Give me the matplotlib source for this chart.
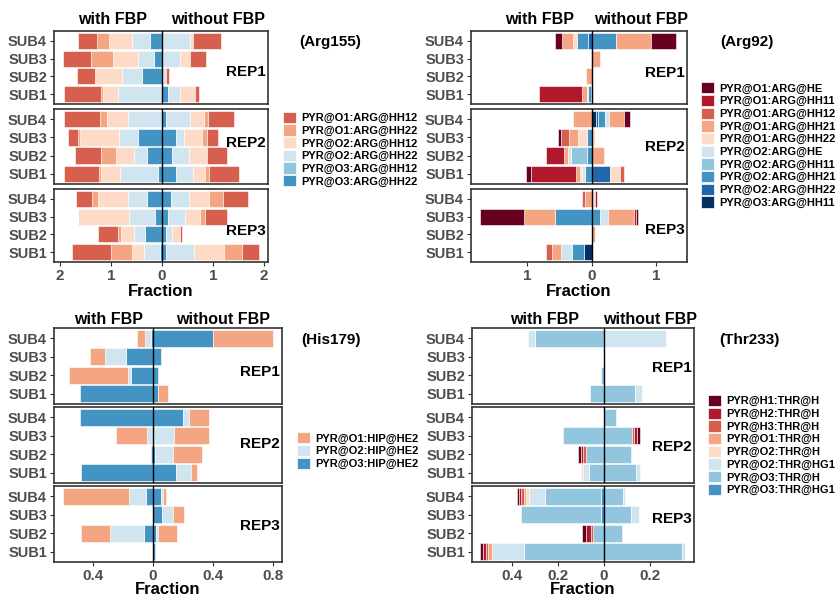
import matplotlib
matplotlib.use("Agg")
import matplotlib.pyplot as plt
from matplotlib.patches import Patch

plt.rcParams['font.family'] = ['Liberation Sans', 'DejaVu Sans']

W, H = 839, 597
SUBS = ['SUB1', 'SUB2', 'SUB3', 'SUB4']
REPS = ['REP1', 'REP2', 'REP3']

# ---- Arg155 ----------------------------------------------------------------
ARG155_LABELS = ['PYR@O1:ARG@HH12', 'PYR@O1:ARG@HH22', 'PYR@O2:ARG@HH12',
                 'PYR@O2:ARG@HH22', 'PYR@O3:ARG@HH12', 'PYR@O3:ARG@HH22']
ARG155_COLORS = ['#D6604D', '#F4A582', '#FDDBC7', '#D1E5F0', '#92C5DE', '#4393C3']
# rows: SUB1..SUB4, values in legend order
ARG155_WITH = [
    [[0.74, 0.03, 0.29, 0.86, 0, 0.01], [0.35, 0, 0.52, 0.40, 0, 0.39],
     [0.54, 0.44, 0.49, 0.31, 0, 0.16], [0.37, 0.24, 0.46, 0.34, 0, 0.24]],
    [[0.69, 0.05, 0.37, 0.75, 0, 0.07], [0.52, 0.29, 0.36, 0.25, 0, 0.29],
     [0.21, 0.04, 0.75, 0.37, 0, 0.48], [0.70, 0.14, 0.41, 0.67, 0, 0]],
    [[0.75, 0.42, 0.23, 0.33, 0, 0.03], [0.39, 0.07, 0.26, 0.21, 0, 0.33],
     [0.02, 0, 0.96, 0.52, 0, 0.13], [0.31, 0.12, 0.60, 0.37, 0, 0.29]],
]
ARG155_WITHOUT = [
    [[0.08, 0, 0.29, 0.23, 0, 0.12], [0.06, 0, 0, 0.07, 0, 0],
     [0.31, 0, 0.20, 0.35, 0, 0], [0.54, 0, 0.07, 0.54, 0, 0]],
    [[0.58, 0.08, 0.23, 0.33, 0, 0.28], [0.39, 0, 0.35, 0.33, 0, 0.20],
     [0.22, 0.09, 0.36, 0.15, 0, 0.28], [0.51, 0.08, 0.29, 0.46, 0, 0.08]],
    [[0.33, 0.35, 0.59, 0.56, 0, 0.07], [0.05, 0, 0.16, 0.12, 0, 0.07],
     [0.43, 0.11, 0.28, 0.34, 0, 0.12], [0.49, 0.28, 0.39, 0.35, 0, 0.18]],
]

# ---- Arg92 -----------------------------------------------------------------
ARG92_LABELS = ['PYR@O1:ARG@HE', 'PYR@O1:ARG@HH11', 'PYR@O1:ARG@HH12',
                'PYR@O1:ARG@HH21', 'PYR@O1:ARG@HH22', 'PYR@O2:ARG@HE',
                'PYR@O2:ARG@HH11', 'PYR@O2:ARG@HH21', 'PYR@O2:ARG@HH22',
                'PYR@O3:ARG@HH11']
ARG92_COLORS = ['#67001F', '#B2182B', '#D6604D', '#F4A582', '#FDDBC7',
                '#D1E5F0', '#92C5DE', '#4393C3', '#2166AC', '#053061']
ARG92_WITH = [
    [[0, 0.67, 0, 0.08, 0.01, 0, 0, 0.04, 0.02, 0], [0, 0, 0, 0.09, 0, 0, 0, 0, 0, 0],
     [0, 0, 0, 0.02, 0, 0, 0, 0, 0, 0], [0.10, 0, 0, 0.18, 0.05, 0, 0, 0.18, 0.06, 0]],
    [[0.09, 0.69, 0, 0.07, 0.03, 0.04, 0, 0.11, 0, 0], [0, 0.27, 0, 0.07, 0, 0.05, 0.24, 0.08, 0, 0],
     [0.05, 0, 0.12, 0.14, 0.14, 0, 0, 0.08, 0, 0], [0, 0, 0, 0.29, 0, 0, 0, 0, 0, 0]],
    [[0, 0, 0.10, 0.14, 0, 0.17, 0, 0.19, 0, 0.12], [0, 0, 0, 0, 0, 0, 0, 0, 0, 0],
     [0.67, 0, 0, 0.48, 0, 0, 0, 0.58, 0, 0], [0, 0, 0.04, 0.11, 0, 0, 0, 0, 0, 0]],
]
ARG92_WITHOUT = [
    [[0, 0, 0, 0, 0.01, 0, 0, 0.01, 0, 0], [0, 0, 0, 0, 0, 0, 0, 0, 0, 0],
     [0, 0, 0, 0.13, 0, 0, 0, 0, 0, 0], [0.39, 0, 0, 0.55, 0, 0, 0, 0.37, 0, 0]],
    [[0, 0, 0.05, 0, 0.16, 0, 0, 0, 0.28, 0], [0, 0, 0, 0.18, 0, 0, 0, 0, 0, 0],
     [0, 0, 0, 0, 0.04, 0, 0, 0, 0, 0], [0.10, 0, 0, 0.22, 0, 0.07, 0, 0.10, 0.04, 0.06]],
    [[0, 0, 0, 0, 0, 0, 0, 0, 0, 0], [0, 0, 0, 0.05, 0, 0, 0, 0, 0, 0],
     [0.03, 0.04, 0, 0.40, 0, 0.12, 0, 0.13, 0, 0], [0, 0.03, 0, 0, 0.04, 0, 0, 0, 0, 0]],
]

# ---- His179 ----------------------------------------------------------------
HIS179_LABELS = ['PYR@O1:HIP@HE2', 'PYR@O2:HIP@HE2', 'PYR@O3:HIP@HE2']
HIS179_COLORS = ['#F4A582', '#D1E5F0', '#4393C3']
HIS179_WITH = [
    [[0, 0, 0.49], [0.39, 0.02, 0.15], [0.10, 0.14, 0.18], [0.055, 0.04, 0.015]],
    [[0, 0, 0.48], [0, 0, 0.015], [0.21, 0.04, 0], [0, 0, 0.49]],
    [[0, 0, 0], [0.19, 0.23, 0.06], [0, 0, 0], [0.44, 0.11, 0.05]],
]
HIS179_WITHOUT = [
    [[0.07, 0, 0.03], [0, 0, 0.035], [0, 0, 0.05], [0.40, 0, 0.40]],
    [[0.04, 0.10, 0.155], [0.19, 0.12, 0.015], [0.23, 0.14, 0], [0.13, 0.04, 0.20]],
    [[0, 0, 0.015], [0.13, 0.01, 0.02], [0.075, 0.07, 0.06], [0.02, 0.01, 0.055]],
]

# ---- Thr233 ----------------------------------------------------------------
THR233_LABELS = ['PYR@H1:THR@H', 'PYR@H2:THR@H', 'PYR@H3:THR@H', 'PYR@O1:THR@H',
                 'PYR@O2:THR@H', 'PYR@O2:THR@HG1', 'PYR@O3:THR@H', 'PYR@O3:THR@HG1']
THR233_COLORS = ['#67001F', '#B2182B', '#D6604D', '#F4A582', '#FDDBC7',
                 '#D1E5F0', '#92C5DE', '#4393C3']
THR233_WITH = [
    [[0, 0, 0, 0, 0, 0, 0.06, 0], [0, 0, 0, 0, 0, 0, 0.012, 0],
     [0, 0, 0, 0, 0, 0, 0, 0], [0, 0, 0, 0, 0, 0.03, 0.30, 0]],
    [[0, 0, 0, 0, 0.01, 0.025, 0.067, 0], [0.01, 0.012, 0.01, 0, 0, 0, 0.08, 0],
     [0, 0, 0, 0, 0, 0, 0.18, 0], [0, 0, 0, 0, 0, 0, 0, 0]],
    [[0.015, 0.01, 0.01, 0.02, 0, 0.135, 0.35, 0], [0.02, 0.02, 0.01, 0, 0, 0, 0.048, 0],
     [0, 0, 0, 0, 0, 0, 0.35, 0.012], [0.01, 0.01, 0.01, 0.01, 0.015, 0.07, 0.24, 0.015]],
]
THR233_WITHOUT = [
    [[0, 0, 0, 0, 0, 0.03, 0.133, 0], [0, 0, 0, 0, 0, 0, 0, 0],
     [0, 0, 0, 0, 0, 0, 0, 0], [0, 0, 0, 0, 0, 0.27, 0, 0]],
    [[0, 0, 0, 0, 0, 0.015, 0.14, 0], [0, 0, 0, 0, 0, 0, 0.115, 0],
     [0.014, 0.012, 0.01, 0, 0, 0, 0.12, 0], [0, 0, 0, 0, 0, 0, 0.054, 0]],
    [[0, 0, 0, 0, 0, 0.01, 0.34, 0], [0, 0, 0, 0, 0, 0, 0.078, 0],
     [0, 0, 0, 0, 0, 0.035, 0.116, 0], [0, 0, 0, 0, 0, 0.008, 0.083, 0]],
]

GRAY = '#4D4D4D'
EDGE = '#333333'


def px_rect(x0, x1, y0, y1):
    return [x0 / W, 1 - y1 / H, (x1 - x0) / W, (y1 - y0) / H]


def stack(ax, rows, colors, sign):
    """Stack segments outward from zero, last legend entry closest to zero"""
    for i, vals in enumerate(rows):
        start = 0.0
        for j in reversed(range(len(vals))):
            v = vals[j]
            if v <= 0:
                continue
            ax.barh(i + 1, sign * v, left=sign * start, height=0.9,
                    color=colors[j], edgecolor='white', linewidth=0.4)
            start += v


def draw_panel(fig, xpx, ypx, with_data, without_data, colors, xlim, xticks,
               rep_y, xlabel_pad=1):
    axes = []
    for k, (y0, y1) in enumerate(ypx):
        ax = fig.add_axes(px_rect(xpx[0], xpx[1], y0, y1))
        stack(ax, with_data[k], colors, -1)
        stack(ax, without_data[k], colors, 1)
        ax.axvline(0, color='black', lw=1.0, zorder=5)
        ax.set_xlim(*xlim)
        ax.set_ylim(0.45, 4.55)
        ax.set_yticks([1, 2, 3, 4])
        ax.set_yticklabels(SUBS, fontweight='bold')
        ax.tick_params(axis='y', labelsize=10.5, labelcolor=GRAY, length=3,
                       color=EDGE, pad=2)
        for s in ax.spines.values():
            s.set_color(EDGE)
            s.set_linewidth(1.2)
        ax.text(0.99, rep_y[k], REPS[k], transform=ax.transAxes, ha='right',
                va='center', fontsize=11, fontweight='bold')
        if k < 2:
            ax.set_xticks([])
        else:
            ax.set_xticks(xticks)
            ax.set_xticklabels([('%g' % abs(t)) for t in xticks],
                               fontweight='bold')
            ax.tick_params(axis='x', labelsize=11, labelcolor=GRAY, length=3,
                           color=EDGE, pad=2)
            ax.set_xlabel('Fraction', fontsize=12, fontweight='bold',
                          labelpad=xlabel_pad)
        axes.append(ax)
    return axes


def add_legend(fig, labels, colors, x, y):
    handles = [Patch(facecolor=c, edgecolor='white', linewidth=0.5) for c in colors]
    fig.legend(handles, labels, loc='upper left', bbox_to_anchor=(x / W, 1 - y / H),
               frameon=False, borderpad=0, borderaxespad=0, handlelength=1.17,
               handleheight=1.17, labelspacing=0.11, handletextpad=0.45,
               prop={'size': 8, 'weight': 'bold'})


fig = plt.figure(figsize=(W / 100, H / 100), dpi=100)

TOP = [(31, 104), (109, 184), (189, 262)]
BOT = [(328, 404), (407, 483), (486, 562)]

draw_panel(fig, (54, 268), TOP, ARG155_WITH, ARG155_WITHOUT, ARG155_COLORS,
           (-2.118, 2.078), [-2, -1, 0, 1, 2], [0.44, 0.55, 0.42])
draw_panel(fig, (471, 687), TOP, ARG92_WITH, ARG92_WITHOUT, ARG92_COLORS,
           (-1.876, 1.473), [-1, 0, 1], [0.42, 0.49, 0.44])
draw_panel(fig, (54, 282), BOT, HIS179_WITH, HIS179_WITHOUT, HIS179_COLORS,
           (-0.66, 0.86), [-0.4, 0, 0.4, 0.8], [0.42, 0.51, 0.47], xlabel_pad=-1)
draw_panel(fig, (472, 694), BOT, THR233_WITH, THR233_WITHOUT, THR233_COLORS,
           (-0.574, 0.391), [-0.4, -0.2, 0, 0.2], [0.47, 0.47, 0.57], xlabel_pad=-1)

# column headers
for cx, cy, txt in [(113, 20, 'with FBP'), (218, 20, 'without FBP'),
                    (540, 20, 'with FBP'), (641, 20, 'without FBP'),
                    (109, 320, 'with FBP'), (223, 320, 'without FBP'),
                    (545, 320, 'with FBP'), (650, 320, 'without FBP')]:
    fig.text(cx / W, 1 - cy / H, txt, ha='center', va='center', fontsize=11.5,
             fontweight='bold')

for cx, cy, txt in [(330, 42, '(Arg155)'), (747, 42, '(Arg92)'),
                    (331, 340, '(His179)'), (749, 340, '(Thr233)')]:
    fig.text(cx / W, 1 - cy / H, txt, ha='center', va='center', fontsize=11,
             fontweight='bold')

add_legend(fig, ARG155_LABELS, ARG155_COLORS, 283, 111.7)
add_legend(fig, ARG92_LABELS, ARG92_COLORS, 701, 82.3)
add_legend(fig, HIS179_LABELS, HIS179_COLORS, 297, 432.3)
add_legend(fig, THR233_LABELS, THR233_COLORS, 708, 395)

fig.savefig('out.png', dpi=100)
